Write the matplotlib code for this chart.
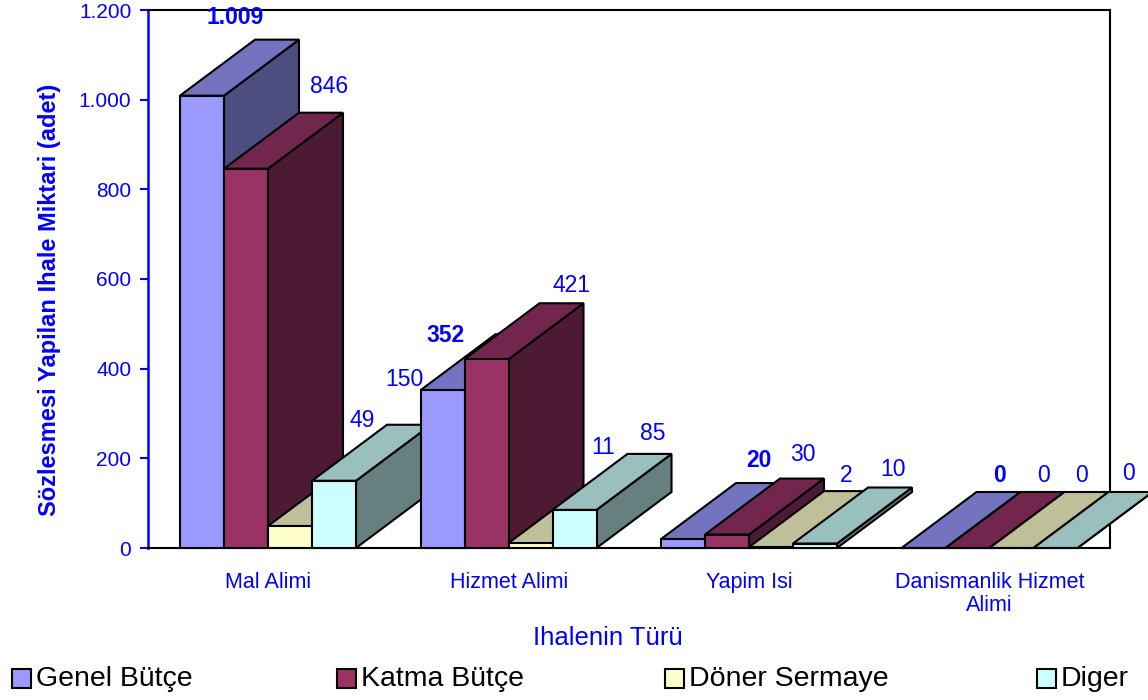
import numpy as np
import matplotlib
matplotlib.use("Agg")
import matplotlib.pyplot as plt
from matplotlib.patches import Polygon, Rectangle

plt.rcParams['font.family'] = ['Liberation Sans', 'DejaVu Sans']

# data
categories = ["Mal Alimi", "Hizmet Alimi", "Yapim Isi", "Danismanlik Hizmet\nAlimi"]
series_names = ["Genel Bütçe", "Katma Bütçe", "Döner Sermaye", "Diger"]
genel = [1009, 352, 20, 0]
katma = [846, 421, 30, 0]
doner = [49, 11, 2, 0]
diger = [150, 85, 10, 0]
y_ticks = [0, 200, 400, 600, 800, 1000, 1200]

# styling
front_colors = ["#9999FF", "#993366", "#FFFFCC", "#CCFFFF"]
blue = "#0000FF"
# label shifts (pixels, dx / up) relative to the back-top centre of each bar
label_shift = [
    [(-42, 22), (-72, -1), (1, 23), (1, 16)],
    [(8, 26), (10, 18), (1, 24), (1, 16)],
    [(-3, 50), (-2, 40), (0, 16), (-5, 16)],
    [(-5, 45), (3, 20), (3, 18), (-2, 19)],
]

W, H = 1148, 700
fig = plt.figure(figsize=(W / 100, H / 100), dpi=100)
ax = fig.add_axes([148 / W, 1 - 548 / H, (1110 - 148) / W, (548 - 10) / H])
ax.set_xlim(0, 4)
ax.set_ylim(0, 1200)

bar_w = 44 / 240.5
start = 32 / 240.5
dx = 75 / 240.5
dy = 56 / (538 / 1200)


def shade(c, f):
    r, g, b = matplotlib.colors.to_rgb(c)
    return (r * f, g * f, b * f)


data = [genel, katma, doner, diger]
z = 3
for g in range(len(categories)):
    for s in range(len(series_names)):
        v = data[s][g]
        x0 = g + start + s * bar_w
        x1 = x0 + bar_w
        col = front_colors[s]
        side = [(x1, 0), (x1 + dx, dy), (x1 + dx, v + dy), (x1, v)]
        top = [(x0, v), (x1, v), (x1 + dx, v + dy), (x0 + dx, v + dy)]
        front = [(x0, 0), (x1, 0), (x1, v), (x0, v)]
        for pts, c in [(side, shade(col, 0.5)), (top, shade(col, 0.75)), (front, col)]:
            ax.add_patch(Polygon(pts, closed=True, facecolor=c, edgecolor="black",
                                 linewidth=1.5, clip_on=False, zorder=z))
            z += 0.01
        txt = f"{v:,}".replace(",", ".")
        sx, sy = label_shift[s][g]
        ax.annotate(txt, ((x0 + x1) / 2 + dx, v + dy), xytext=(sx, sy),
                    textcoords="offset pixels", ha="center", va="center",
                    color=blue, fontsize=16.5,
                    fontweight="bold" if s == 0 else "normal",
                    annotation_clip=False, zorder=10)

# axes styling
for name in ["top", "right", "bottom"]:
    ax.spines[name].set_color("black")
    ax.spines[name].set_linewidth(1.5)
ax.spines["left"].set_color(blue)
ax.spines["left"].set_linewidth(1.8)

ax.set_yticks(y_ticks)
ax.set_yticklabels([f"{t:,}".replace(",", ".") for t in y_ticks])
ax.tick_params(axis="y", colors=blue, labelsize=15, length=6, width=1.5, pad=6)
ax.set_xticks([0.5, 1.5, 2.5, 3.5])
ax.set_xticklabels(categories, linespacing=1.15)
ax.tick_params(axis="x", colors=blue, labelsize=15.5, length=0, pad=17)

fig.text(608 / W, 1 - 638 / H, "Ihalenin Türü", color=blue, fontsize=18.5,
         ha="center", va="center")
fig.text(50 / W, 1 - 300 / H, "Sözlesmesi Yapilan Ihale Miktari (adet)",
         color=blue, fontsize=17, fontweight="bold", rotation=90,
         ha="center", va="center")

# legend
leg_x = [12, 337, 665, 1037]
for x, name, col in zip(leg_x, series_names, front_colors):
    fig.add_artist(Rectangle((x / W, 1 - 688 / H), 19 / W, 19 / H,
                             transform=fig.transFigure, facecolor=col,
                             edgecolor="black", linewidth=1.5))
    fig.text((x + 24) / W, 1 - 679 / H, name, fontsize=20.5, color="black",
             ha="left", va="center")

fig.savefig("out.png", dpi=100)
